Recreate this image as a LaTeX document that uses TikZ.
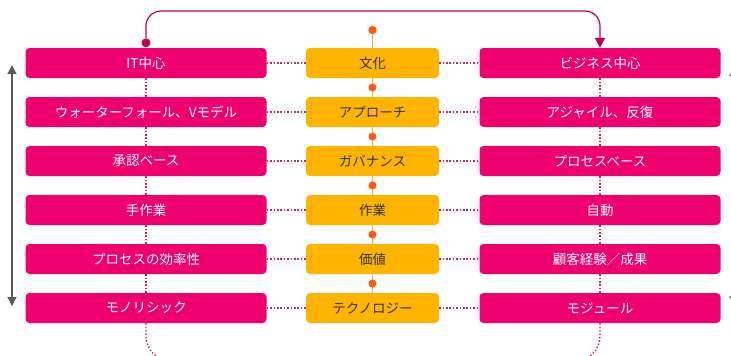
\documentclass[tikz,border=0pt]{standalone}
\usepackage{fontspec}
\setmainfont{Noto Sans CJK JP}
\usetikzlibrary{arrows.meta}
\definecolor{boxpink}{HTML}{EE006E}
\definecolor{boxamber}{HTML}{FFB400}
\definecolor{flowpink}{HTML}{BE0052}
\definecolor{linkpink}{HTML}{C8226A}
\definecolor{spineorange}{HTML}{F2B04A}
\definecolor{dotorange}{HTML}{FF5A0A}
\definecolor{textgray}{HTML}{333333}
\definecolor{axisgray}{HTML}{5A5A5A}

\begin{document}
\begin{tikzpicture}[x=1pt, y=-1pt,
      every node/.append style={font=\fontsize{13.5}{15}\selectfont},
      side/.style={fill=boxpink, text=white, rounded corners=4pt,
        minimum width=241pt, minimum height=30pt, inner sep=0pt},
      mid/.style={fill=boxamber, text=textgray, rounded corners=4pt,
        minimum width=133pt, minimum height=30pt, inner sep=0pt}]
    \tikzstyle{link} = [draw=linkpink, line width=1.3pt, dash pattern=on 1.6pt off 1.8pt]
    \tikzstyle{spine} = [draw=spineorange, line width=1.2pt]
    \tikzstyle{knob} = [circle, fill=dotorange, minimum size=8pt, inner sep=0pt]
    \tikzstyle{flow} = [draw=flowpink, line width=1.2pt]
    \tikzstyle{axis} = [draw=axisgray, line width=1.2pt, {Triangle[width=9pt,length=9pt]}-{Triangle[width=9pt,length=9pt]}]
    \useasboundingbox (0,0) rectangle (731,356);
    \clip (0,0) rectangle (731,356);
    \foreach \i/\lt/\ct/\rt in {1/IT中心/文化/ビジネス中心,
        2/ウォーターフォール、Vモデル/アプローチ/アジャイル、反復,
        3/承認ベース/ガバナンス/プロセスベース,
        4/手作業/作業/自動,
        5/プロセスの効率性/価値/顧客経験／成果,
        6/モノリシック/テクノロジー/モジュール} {
      \node[side] (l\i) at (146, 14+49*\i) {\lt};
      \node[mid] (c\i) at (372.5, 14+49*\i) {\ct};
      \node[side] (r\i) at (600, 14+49*\i) {\rt};
      \draw[link] (l\i.east) -- (c\i.west);
      \draw[link] (c\i.east) -- (r\i.west);
    }
    \foreach \i [count=\j from 2] in {1,...,5} {
      \draw[link] (l\i.south) -- (l\j.north);
      \draw[link] (r\i.south) -- (r\j.north);
      \draw[spine] (c\i.south) -- (c\j.north);
      \path (c\i.south) -- (c\j.north) node[knob, midway] (k\j) {};
    }
    \node[knob] (k1) at (372.5, 30) {};
    \draw[spine] (k1) -- (c1.north);
    \node[knob] (k1) at (372.5, 30) {};
    % top link
    \node[circle, fill=flowpink, minimum size=9pt, inner sep=0pt] (start) at ([yshift=5pt]l1.north) {};
    \draw[flow, rounded corners=15pt, -{Triangle[width=10pt,length=10pt]}] (start) -- (146, 11) -| (r1.north);
    % bottom links
    \coordinate (bottom) at (372.5, 361);
    \draw[link, rounded corners=25pt] (l6.south) |- (bottom);
    \draw[link, rounded corners=25pt] (r6.south) |- (bottom);
    % side axes
    \coordinate (axtop) at (12, 65);
    \coordinate (axbot) at (12, 306);
    \draw[axis] (axtop) -- (axbot);
    \coordinate (rxtop) at (734, 67);
    \coordinate (rxbot) at (734, 305);
    \draw[axis] (rxtop) -- (rxbot);
\end{tikzpicture}
\end{document}
